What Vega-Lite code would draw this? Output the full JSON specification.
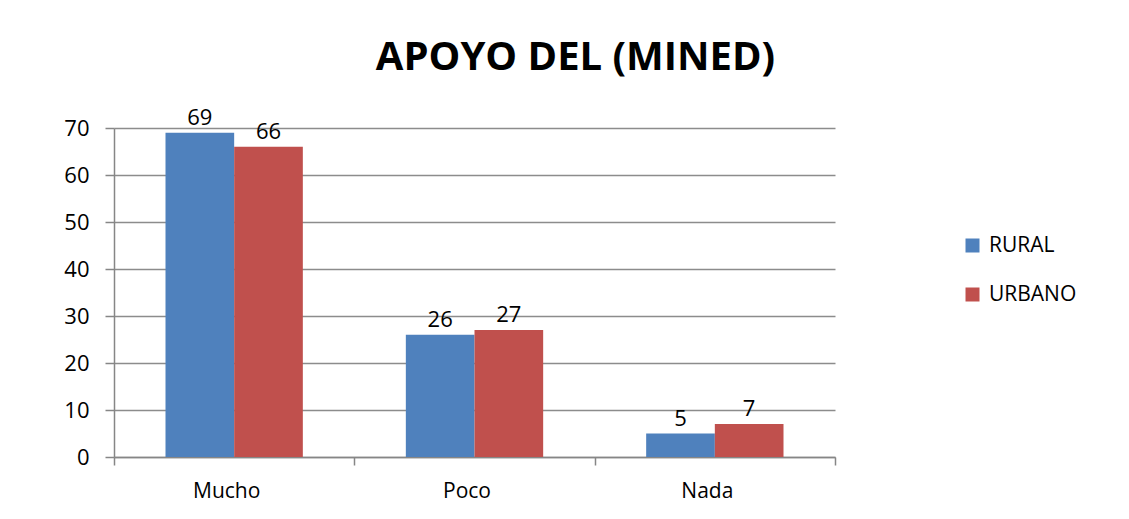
{
  "$schema": "https://vega.github.io/schema/vega-lite/v6.json",
  "autosize": {"type": "none"},
  "padding": {"left": 114, "top": 128, "right": 294, "bottom": 62},
  "width": 721,
  "height": 329,
  "background": "white",
  "title": {
    "text": "APOYO DEL (MINED)",
    "font": "Open Sans",
    "fontSize": 40,
    "fontWeight": "bold",
    "color": "#000000",
    "anchor": "middle",
    "frame": "group",
    "baseline": "alphabetic",
    "dx": 101,
    "offset": -3
  },
  "data": {
    "values": [
      {"nivel": "Mucho", "zona": "RURAL", "valor": 69},
      {"nivel": "Mucho", "zona": "URBANO", "valor": 66},
      {"nivel": "Poco", "zona": "RURAL", "valor": 26},
      {"nivel": "Poco", "zona": "URBANO", "valor": 27},
      {"nivel": "Nada", "zona": "RURAL", "valor": 5},
      {"nivel": "Nada", "zona": "URBANO", "valor": 7}
    ]
  },
  "encoding": {
    "x": {
      "field": "nivel",
      "type": "nominal",
      "sort": ["Mucho", "Poco", "Nada"],
      "scale": {"paddingInner": 0, "paddingOuter": 0},
      "axis": {
        "title": null,
        "labelAngle": 0,
        "labelFont": "Open Sans",
        "labelFontSize": 21,
        "labelColor": "#000000",
        "labelPadding": 15,
        "labelOffset": -8,
        "tickSize": 8,
        "tickBand": "extent",
        "tickColor": "#868686",
        "domainColor": "#868686",
        "domainWidth": 1.5,
        "tickWidth": 1.5,
        "grid": false
      }
    },
    "xOffset": {"field": "zona", "type": "nominal", "scale": {"paddingInner": 0, "paddingOuter": 0.75}},
    "y": {
      "field": "valor",
      "type": "quantitative",
      "scale": {"domain": [0, 70], "nice": false},
      "axis": {
        "title": null,
        "values": [0, 10, 20, 30, 40, 50, 60, 70],
        "labelFont": "Open Sans",
        "labelFontSize": 22,
        "labelColor": "#000000",
        "labelPadding": 16,
        "tickSize": 9,
        "tickColor": "#868686",
        "tickWidth": 1.5,
        "domainColor": "#868686",
        "domainWidth": 1.5,
        "grid": true,
        "gridColor": "#8c8c8c",
        "gridWidth": 1.5
      }
    }
  },
  "layer": [
    {
      "mark": {"type": "bar", "stroke": null},
      "encoding": {
        "color": {
          "field": "zona",
          "type": "nominal",
          "scale": {"domain": ["RURAL", "URBANO"], "range": ["#4F81BD", "#C0504D"]},
          "legend": {
            "title": null,
            "orient": "none",
            "legendX": 848,
            "legendY": 107,
            "symbolType": "square",
            "symbolSize": 196,
            "symbolStrokeWidth": 0,
            "labelFont": "Open Sans",
            "labelFontSize": 21,
            "labelColor": "#000000",
            "labelOffset": 6,
            "rowPadding": 27,
            "padding": 0
          }
        }
      }
    },
    {
      "mark": {
        "type": "text",
        "baseline": "bottom",
        "dy": -3,
        "font": "Open Sans",
        "fontSize": 22,
        "color": "#000000"
      },
      "encoding": {"text": {"field": "valor", "type": "quantitative"}}
    }
  ],
  "config": {"view": {"stroke": null}}
}
